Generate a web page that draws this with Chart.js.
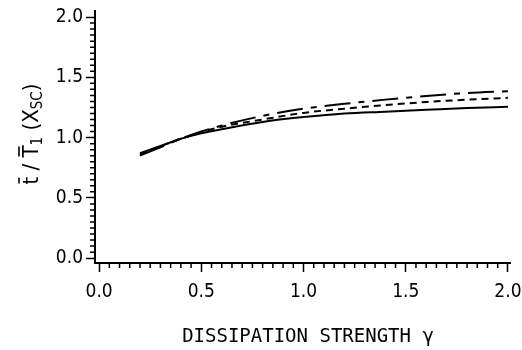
<!DOCTYPE html>
<html><head><meta charset="utf-8">
<script src="https://cdn.jsdelivr.net/npm/chart.js@4/dist/chart.umd.min.js"></script>
<style>html,body{margin:0;padding:0;background:#fff}#wrap{width:522px;height:350px;position:relative}</style>
</head><body><div id="wrap"><canvas id="c"></canvas></div>
<script>
// Data
const gammaValues   = [0.2, 0.3, 0.4, 0.5, 0.6, 0.8, 1.0, 1.2, 1.4, 1.6, 1.8, 2.0];
const solidValues   = [0.87, 0.93, 0.99, 1.035, 1.07, 1.13, 1.17, 1.20, 1.215, 1.23, 1.245, 1.255];
const dashedValues  = [0.86, 0.93, 0.99, 1.045, 1.09, 1.15, 1.205, 1.24, 1.27, 1.295, 1.315, 1.33];
const dashDotValues = [0.85, 0.92, 0.99, 1.05, 1.10, 1.18, 1.24, 1.28, 1.315, 1.345, 1.37, 1.385];
const majorTicks = [0.0, 0.5, 1.0, 1.5, 2.0];
const xTitle = 'DISSIPATION STRENGTH γ';
const yTitleParts = [
  {t: 't', over: true}, {t: ' / '}, {t: 'T', over: true}, {t: '1', sub: true},
  {t: ' (X'}, {t: 'SC', sub: true}, {t: ')'}
];

const TICK_FONT = '"DejaVu Sans Condensed", "Liberation Sans Narrow", "DejaVu Sans", sans-serif';
const pts = arr => gammaValues.map((g, i) => ({x: g, y: arr[i]}));

const decor = {
  id: 'decor',
  afterDraw(chart) {
    const ctx = chart.ctx, xs = chart.scales.x, ys = chart.scales.y;
    const ca = chart.chartArea;
    ctx.save();
    ctx.strokeStyle = '#000'; ctx.lineWidth = 1.5;
    ctx.beginPath();
    for (let i = 0; i <= 40; i++) {
      if (i % 10 === 0) continue;
      const v = i * 0.05;
      const py = ys.getPixelForValue(v);
      ctx.moveTo(ca.left - 5, py); ctx.lineTo(ca.left, py);
      const px = xs.getPixelForValue(v);
      ctx.moveTo(px, ca.bottom); ctx.lineTo(px, ca.bottom + 5);
    }
    ctx.stroke();
    // x title
    ctx.fillStyle = '#000';
    ctx.font = '19px "DejaVu Sans Mono", monospace';
    ctx.textAlign = 'center'; ctx.textBaseline = 'middle';
    ctx.fillText(xTitle, 308, 337);
    // y title (rotated, with overlines and subscripts)
    ctx.translate(38, 134);
    ctx.rotate(-Math.PI / 2);
    const mainF = '22px ' + TICK_FONT, subF = '15px ' + TICK_FONT;
    let total = 0;
    yTitleParts.forEach(p => { ctx.font = p.sub ? subF : mainF; p.w = ctx.measureText(p.t).width; total += p.w; });
    let x = -total / 2;
    ctx.textAlign = 'left'; ctx.textBaseline = 'alphabetic';
    yTitleParts.forEach(p => {
      ctx.font = p.sub ? subF : mainF;
      ctx.fillText(p.t, x, p.sub ? 4 : 0);
      if (p.over) {
        ctx.lineWidth = 1.6;
        ctx.beginPath(); ctx.moveTo(x + 1, -19); ctx.lineTo(x + p.w - 1, -19); ctx.stroke();
      }
      x += p.w;
    });
    ctx.restore();
  }
};

new Chart(document.getElementById('c'), {
  type: 'line',
  data: {
    datasets: [
      {data: pts(solidValues), borderColor: '#000', borderWidth: 2, pointRadius: 0, cubicInterpolationMode: 'monotone'},
      {data: pts(dashedValues), borderColor: '#000', borderWidth: 2, borderDash: [7, 5], pointRadius: 0, cubicInterpolationMode: 'monotone'},
      {data: pts(dashDotValues), borderColor: '#000', borderWidth: 2, borderDash: [26, 8, 6, 8], pointRadius: 0, cubicInterpolationMode: 'monotone'}
    ]
  },
  options: {
    responsive: true, maintainAspectRatio: false, animation: false,
    layout: {padding: {top: 11, right: 12, left: 0, bottom: 0}},
    plugins: {legend: {display: false}, tooltip: {enabled: false}},
    scales: {
      x: {
        type: 'linear', min: -0.02, max: 2.01,
        afterBuildTicks: s => { s.ticks = majorTicks.map(v => ({value: v})); },
        afterFit: s => { s.height = 87; s.paddingLeft = 0; s.paddingRight = 0; },
        border: {display: true, color: '#000', width: 2},
        grid: {drawOnChartArea: false, drawTicks: true, tickLength: 9, tickWidth: 1.5, tickColor: '#000'},
        ticks: {color: '#000', padding: 9, maxRotation: 0, font: {family: TICK_FONT, size: 19}, callback: v => v.toFixed(1)}
      },
      y: {
        type: 'linear', min: -0.04, max: 2.05,
        afterBuildTicks: s => { s.ticks = majorTicks.map(v => ({value: v})); },
        afterFit: s => { s.width = 95; s.paddingTop = 0; s.paddingBottom = 0; },
        border: {display: true, color: '#000', width: 2},
        grid: {drawOnChartArea: false, drawTicks: true, tickLength: 9, tickWidth: 1.5, tickColor: '#000'},
        ticks: {color: '#000', padding: 3, font: {family: TICK_FONT, size: 19}, callback: v => v.toFixed(1)}
      }
    }
  },
  plugins: [decor]
});
</script></body></html>
